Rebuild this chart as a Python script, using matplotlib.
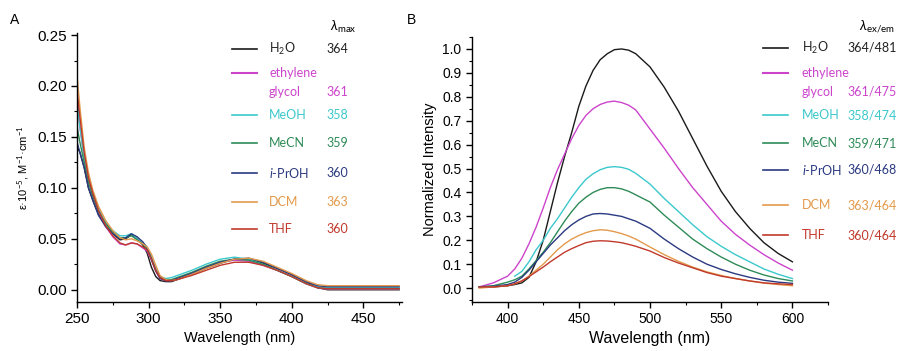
import matplotlib
matplotlib.use("Agg")
import matplotlib.pyplot as plt
from matplotlib.lines import Line2D
from matplotlib.ticker import MultipleLocator

plt.rcParams['font.family'] = ['Liberation Sans', 'DejaVu Sans']
plt.rcParams['mathtext.fontset'] = 'custom'
plt.rcParams['mathtext.rm'] = 'Lato'
plt.rcParams['mathtext.it'] = 'Lato:italic'

# ---------------- data ----------------
solvents = ["H$_2$O", "ethylene\nglycol", "MeOH", "MeCN", "$i$-PrOH", "DCM", "THF"]
colors = ["#1a1a1a", "#cc44cc", "#3cc8cc", "#2e8b57", "#2b3a80", "#e39a4c", "#c0392b"]
lam_max = ["364", "361", "358", "359", "360", "363", "360"]
lam_exem = ["364/481", "361/475", "358/474", "359/471", "360/468", "363/464", "360/464"]

wl_abs = [250, 252, 255, 258, 261, 265, 270, 275, 280, 284, 288, 292, 296, 299, 302, 305,
          308, 312, 316, 320, 330, 340, 350, 360, 370, 380, 390, 400, 410, 418, 425, 440, 460, 475]

abs_h2o = [0.140, 0.135, 0.120, 0.100, 0.088, 0.074, 0.063, 0.055, 0.049, 0.050, 0.054, 0.050,
           0.044, 0.036, 0.022, 0.013, 0.009, 0.008, 0.008, 0.010, 0.015, 0.021, 0.026, 0.030,
           0.030, 0.026, 0.021, 0.015, 0.008, 0.002, 0.000, 0.000, 0.000, 0.000]
abs_eg = [0.190, 0.160, 0.130, 0.108, 0.093, 0.077, 0.062, 0.052, 0.045, 0.044, 0.046, 0.045,
          0.041, 0.038, 0.029, 0.018, 0.011, 0.009, 0.009, 0.011, 0.016, 0.022, 0.027, 0.029,
          0.028, 0.024, 0.019, 0.013, 0.006, 0.002, 0.0005, 0.0005, 0.0005, 0.0005]
abs_meoh = [0.185, 0.160, 0.130, 0.110, 0.095, 0.080, 0.066, 0.058, 0.053, 0.053, 0.055, 0.050,
            0.046, 0.042, 0.033, 0.021, 0.013, 0.011, 0.012, 0.014, 0.019, 0.025, 0.030, 0.032,
            0.030, 0.025, 0.019, 0.013, 0.006, 0.003, 0.002, 0.002, 0.002, 0.002]
abs_mecn = [0.160, 0.145, 0.125, 0.105, 0.092, 0.077, 0.065, 0.057, 0.051, 0.051, 0.053, 0.049,
            0.045, 0.040, 0.030, 0.019, 0.012, 0.010, 0.010, 0.012, 0.017, 0.023, 0.028, 0.030,
            0.029, 0.025, 0.019, 0.013, 0.006, 0.002, 0.001, 0.001, 0.001, 0.001]
abs_iproh = [0.145, 0.135, 0.120, 0.100, 0.088, 0.073, 0.062, 0.055, 0.050, 0.051, 0.055, 0.052,
             0.047, 0.041, 0.030, 0.019, 0.011, 0.009, 0.009, 0.011, 0.016, 0.022, 0.027, 0.030,
             0.031, 0.027, 0.021, 0.015, 0.008, 0.004, 0.003, 0.003, 0.003, 0.003]
abs_dcm = [0.210, 0.180, 0.140, 0.115, 0.098, 0.082, 0.068, 0.058, 0.051, 0.049, 0.050, 0.048,
           0.045, 0.042, 0.035, 0.024, 0.014, 0.010, 0.009, 0.010, 0.015, 0.021, 0.026, 0.030,
           0.031, 0.028, 0.022, 0.016, 0.009, 0.005, 0.004, 0.004, 0.004, 0.004]
abs_thf = [0.195, 0.170, 0.135, 0.110, 0.095, 0.078, 0.063, 0.053, 0.046, 0.044, 0.046, 0.045,
           0.042, 0.039, 0.030, 0.019, 0.012, 0.009, 0.009, 0.010, 0.014, 0.019, 0.024, 0.027,
           0.027, 0.024, 0.019, 0.013, 0.006, 0.002, 0.001, 0.001, 0.001, 0.001]

wl_em = [380, 390, 400, 405, 410, 415, 420, 425, 430, 435, 440, 445, 450, 455, 460, 465,
         470, 475, 480, 485, 490, 500, 510, 520, 530, 540, 550, 560, 570, 580, 590, 600]
em_h2o = [0.005, 0.005, 0.010, 0.015, 0.022, 0.045, 0.110, 0.200, 0.320, 0.440, 0.550, 0.650,
          0.760, 0.845, 0.910, 0.955, 0.980, 0.997, 1.000, 0.995, 0.980, 0.925, 0.840, 0.740,
          0.625, 0.510, 0.405, 0.320, 0.250, 0.190, 0.145, 0.110]
em_eg = [0.005, 0.022, 0.050, 0.080, 0.125, 0.185, 0.255, 0.335, 0.420, 0.495, 0.560, 0.625,
         0.680, 0.722, 0.750, 0.768, 0.778, 0.782, 0.776, 0.765, 0.745, 0.665, 0.585, 0.500,
         0.420, 0.350, 0.280, 0.225, 0.180, 0.140, 0.105, 0.075]
em_meoh = [None, None, None, 0.050, 0.070, 0.110, 0.160, 0.200, 0.250, 0.290, 0.335, 0.380,
           0.420, 0.455, 0.478, 0.495, 0.505, 0.508, 0.505, 0.497, 0.480, 0.435, 0.375, 0.320,
           0.265, 0.215, 0.175, 0.140, 0.110, 0.080, 0.058, 0.040]
em_mecn = [0.005, 0.010, 0.025, 0.035, 0.050, 0.080, 0.115, 0.150, 0.190, 0.235, 0.280, 0.320,
           0.355, 0.380, 0.400, 0.413, 0.420, 0.420, 0.415, 0.405, 0.390, 0.360, 0.305, 0.255,
           0.205, 0.165, 0.130, 0.100, 0.075, 0.055, 0.040, 0.030]
em_iproh = [0.005, 0.008, 0.015, 0.025, 0.045, 0.075, 0.110, 0.145, 0.180, 0.210, 0.240, 0.265,
            0.285, 0.300, 0.310, 0.312, 0.310, 0.305, 0.300, 0.290, 0.280, 0.250, 0.205, 0.165,
            0.130, 0.100, 0.078, 0.060, 0.045, 0.033, 0.025, 0.020]
em_dcm = [0.000, 0.005, 0.010, 0.018, 0.030, 0.050, 0.075, 0.100, 0.130, 0.160, 0.185, 0.205,
          0.220, 0.232, 0.240, 0.244, 0.242, 0.236, 0.228, 0.218, 0.205, 0.172, 0.140, 0.112,
          0.088, 0.068, 0.053, 0.040, 0.030, 0.021, 0.015, 0.010]
em_thf = [0.005, 0.005, 0.010, 0.018, 0.030, 0.048, 0.068, 0.088, 0.110, 0.130, 0.150, 0.165,
          0.178, 0.190, 0.196, 0.198, 0.197, 0.194, 0.190, 0.183, 0.175, 0.155, 0.128, 0.105,
          0.085, 0.065, 0.050, 0.040, 0.030, 0.022, 0.018, 0.015]

abs_series = [abs_h2o, abs_eg, abs_meoh, abs_mecn, abs_iproh, abs_dcm, abs_thf]
em_series = [em_h2o, em_eg, em_meoh, em_mecn, em_iproh, em_dcm, em_thf]

# ---------------- figure ----------------
W, H = 901, 351
fig = plt.figure(figsize=(W / 100, H / 100), dpi=100)

def fx(px):
    return px / W

def fy(py):
    return 1 - py / H

axA = fig.add_axes([fx(77), fy(302), fx(402) - fx(77), fy(33) - fy(302)])
axB = fig.add_axes([fx(472), fy(302), fx(828) - fx(472), fy(37) - fy(302)])

for ys, c in zip(abs_series, colors):
    axA.plot(wl_abs, ys, color=c, lw=1.0)
for ys, c in zip(em_series, colors):
    pts = [(x, y) for x, y in zip(wl_em, ys) if y is not None]
    axB.plot([p[0] for p in pts], [p[1] for p in pts], color=c, lw=1.0)

for ax in (axA, axB):
    ax.spines['top'].set_visible(False)
    ax.spines['right'].set_visible(False)
    for s in ('left', 'bottom'):
        ax.spines[s].set_linewidth(1.0)
    ax.tick_params(which='major', direction='out', length=4, width=1.0)
    ax.tick_params(which='minor', direction='out', length=2.5, width=0.8)

axA.set_xlim(250, 477)
axA.set_ylim(-0.012, 0.252)
axA.xaxis.set_major_locator(MultipleLocator(50))
axA.xaxis.set_minor_locator(MultipleLocator(25))
axA.yaxis.set_major_locator(MultipleLocator(0.05))
axA.yaxis.set_minor_locator(MultipleLocator(0.025))
axA.set_yticks([0, 0.05, 0.10, 0.15, 0.20, 0.25])
axA.set_yticklabels(["0.00", "0.05", "0.10", "0.15", "0.20", "0.25"])
axA.tick_params(labelsize=11)
axA.set_xlabel("Wavelength (nm)", fontsize=10.5, labelpad=3)
axA.set_ylabel(r"ε·10$^{-5}$, M$^{-1}$·cm$^{-1}$", fontsize=8, labelpad=4)

axB.set_xlim(375, 625)
axB.set_ylim(-0.058, 1.05)
axB.xaxis.set_major_locator(MultipleLocator(50))
axB.xaxis.set_minor_locator(MultipleLocator(25))
axB.yaxis.set_major_locator(MultipleLocator(0.1))
axB.yaxis.set_minor_locator(MultipleLocator(0.05))
axB.set_yticks([i / 10 for i in range(11)])
axB.set_yticklabels([f"{i / 10:.1f}" for i in range(11)])
axB.set_xticks([400, 450, 500, 550, 600])
axB.tick_params(labelsize=10)
axB.set_xlabel("Wavelength (nm)", fontsize=11.5, labelpad=3)
axB.set_ylabel("Normalized Intensity", fontsize=10.5, labelpad=4)

fig.text(fx(15), fy(20), "A", fontsize=10, va='center', ha='center')
fig.text(fx(412), fy(20), "B", fontsize=10, va='center', ha='center')

# ------------- legends (manual) -------------
legend_font = ['Lato', 'DejaVu Sans']

def draw_legend(rows, line_x0, line_x1, text_x, num_x, labels_num, header, header_x):
    fig.text(fx(header_x), fy(27), header, fontsize=10, ha='center', va='center',
             family=legend_font)
    for i, (lab, c, num) in enumerate(zip(solvents, colors, labels_num)):
        yl = rows[i]
        fig.add_artist(Line2D([fx(line_x0), fx(line_x1)], [fy(yl), fy(yl)], color=c,
                              lw=1.5 if i == 1 else 1.2, transform=fig.transFigure))
        if i == 1:
            fig.text(fx(text_x), fy(yl), "ethylene", color=c, fontsize=9, va='center',
                     family=legend_font)
            ynum = yl + 19
            fig.text(fx(text_x), fy(ynum), "glycol", color=c, fontsize=9, va='center',
                     family=legend_font)
        else:
            ynum = yl
            fig.text(fx(text_x), fy(yl), lab, color=c if i != 0 else "#222222",
                     fontsize=9, va='center', family=legend_font)
        fig.text(fx(num_x), fy(ynum), num, color=c if i != 0 else "#222222",
                 fontsize=9, va='center', family=legend_font)

draw_legend([49, 73, 115, 143, 173, 202, 229], 232, 257, 269, 326, lam_max,
            r"$\lambda_{\rm max}$", 343)
draw_legend([48, 73, 115, 143, 170, 205, 235], 763, 788, 802, 847, lam_exem,
            r"$\lambda_{\rm ex/em}$", 877)

fig.savefig("out.png", dpi=100)
